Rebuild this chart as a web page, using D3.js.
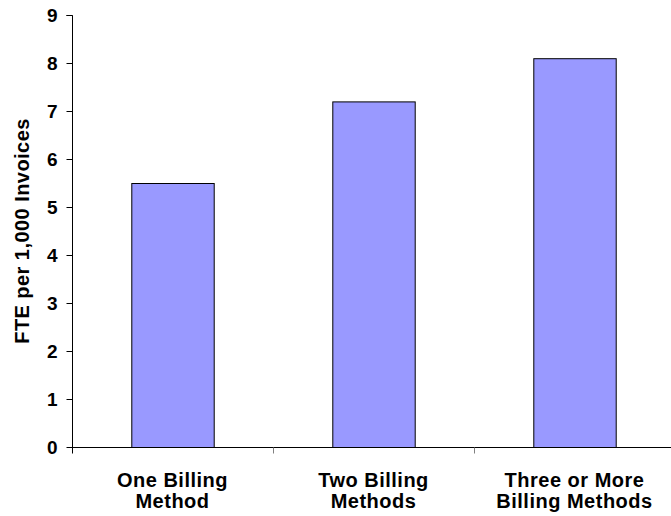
<!DOCTYPE html>
<html>
<head>
<meta charset="utf-8">
<script src="https://cdn.jsdelivr.net/npm/d3@7/dist/d3.min.js"></script>
<style>
  html, body { margin: 0; padding: 0; background: #fff; }
  svg { display: block; }
  text { font-family: "Liberation Sans", Arial, sans-serif; font-weight: bold; fill: #000; }
</style>
</head>
<body>
<svg id="chart" width="671" height="516"></svg>
<script>
// FTE per 1,000 invoices by number of billing methods
const categories = [["One Billing", "Method"], ["Two Billing", "Methods"], ["Three or More", "Billing Methods"]];
const values = [5.5, 7.2, 8.1];
const yTicks = [0, 1, 2, 3, 4, 5, 6, 7, 8, 9];
const yTitle = "FTE per 1,000 Invoices";

const svg = d3.select("#chart");
const plotLeft = 72, plotRight = 675, plotTop = 15, plotBottom = 447;

const x = d3.scaleBand()
  .domain(d3.range(categories.length))
  .range([plotLeft, plotRight])
  .paddingInner(0.59)
  .paddingOuter(0.295);

const xBand = d3.scaleBand().domain(d3.range(categories.length)).range([plotLeft, plotRight]);

const y = d3.scaleLinear().domain([0, 9]).range([plotBottom, plotTop]);

// Bars
svg.append("g").selectAll("rect")
  .data(values)
  .join("rect")
  .attr("x", (d, i) => x(i) + 0.5)
  .attr("y", d => y(d) + 0.5)
  .attr("width", x.bandwidth())
  .attr("height", d => y(0) - y(d))
  .attr("fill", "#9999FF")
  .attr("stroke", "#000")
  .attr("stroke-width", 1);

// Y axis
const yAxis = svg.append("g")
  .attr("transform", `translate(${plotLeft + 0.5},0)`)
  .call(d3.axisLeft(y).tickValues(yTicks).tickSize(6).tickPadding(9).tickFormat(d3.format("d")));
yAxis.select(".domain").attr("stroke", "#000").attr("d", `M-6,${plotTop + 0.5}H0V${plotBottom + 0.5}`);
yAxis.selectAll(".tick line").attr("stroke", "#000");
yAxis.selectAll(".tick").attr("transform", d => `translate(0,${y(d) + 0.5})`);
yAxis.attr("font-family", null).attr("font-size", 19);
yAxis.selectAll("text").attr("font-weight", "bold").attr("fill", "#000");

// X axis baseline and category dividers
const xAxis = svg.append("g").attr("transform", `translate(0,${plotBottom + 0.5})`);
xAxis.append("line").attr("x1", plotLeft).attr("x2", plotRight).attr("stroke", "#000");
xAxis.selectAll("line.div")
  .data(d3.range(1, categories.length + 1))
  .join("line")
  .attr("class", "div")
  .attr("x1", i => Math.round(xBand(0) + i * xBand.step()) + 0.5)
  .attr("x2", i => Math.round(xBand(0) + i * xBand.step()) + 0.5)
  .attr("y1", 0).attr("y2", 6)
  .attr("stroke", "#808080");
xAxis.append("line").attr("x1", plotLeft + 0.5).attr("x2", plotLeft + 0.5).attr("y1", 0).attr("y2", 6).attr("stroke", "#000");

// Category labels
const labels = svg.append("g").selectAll("text")
  .data(categories)
  .join("text")
  .attr("x", (d, i) => xBand(i) + xBand.bandwidth() / 2)
  .attr("y", 486.5)
  .attr("text-anchor", "middle")
  .attr("font-size", 20)
  .attr("letter-spacing", 0.5);
labels.selectAll("tspan")
  .data(d => d)
  .join("tspan")
  .attr("x", function () { return this.parentNode.getAttribute("x"); })
  .attr("dy", (d, j) => j === 0 ? 0 : 21.5)
  .text(d => d);

// Y axis title
svg.append("text")
  .attr("transform", `translate(29,${(plotTop + plotBottom) / 2}) rotate(-90)`)
  .attr("text-anchor", "middle")
  .attr("font-size", 20)
  .attr("letter-spacing", 0.45)
  .text(yTitle);
</script>
</body>
</html>
